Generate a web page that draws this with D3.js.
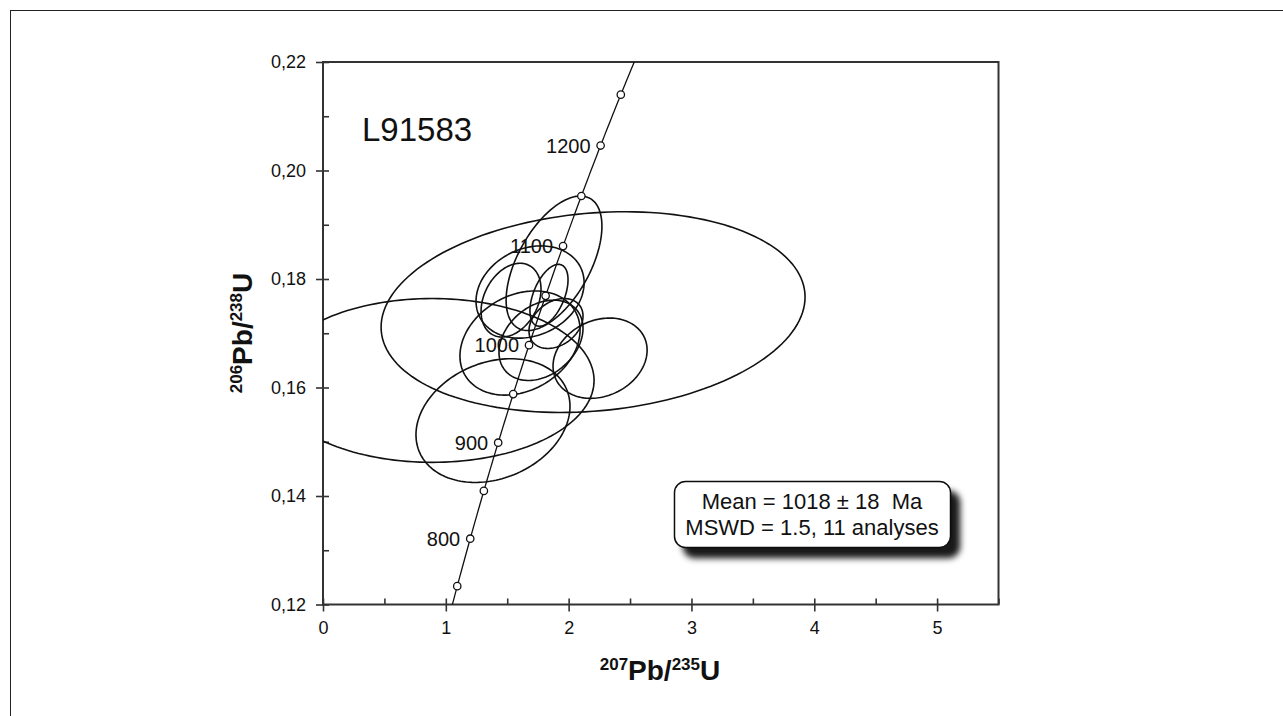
<!DOCTYPE html>
<html>
<head>
<meta charset="utf-8">
<script src="https://cdn.jsdelivr.net/npm/d3@7"></script>
<style>
  body { margin: 0; background: #fff; }
  text { font-family: "Liberation Sans", Arial, sans-serif; fill: #111; }
</style>
</head>
<body>
<svg width="1283" height="716"></svg>
<script>
// analyses: 207Pb/235U, 206Pb/238U, half-extents of the error ellipses, error correlation
var ratio75    = [2.199, 0.888, 1.384, 1.881, 1.686, 1.531, 1.840, 1.604, 1.775, 2.256, 1.897];
var ratio75Err = [1.726, 1.319, 0.627, 0.390, 0.440, 0.244, 0.155, 0.489, 0.342, 0.383, 0.220];
var ratio68    = [0.1739, 0.1613, 0.1539, 0.1829, 0.1776, 0.1761, 0.1770, 0.1682, 0.1687, 0.1654, 0.1718];
var ratio68Err = [0.0185, 0.0151, 0.0114, 0.0124, 0.0085, 0.0068, 0.0057, 0.0096, 0.0074, 0.0074, 0.0046];
var rho        = [0.15, 0.0, 0.23, 0.55, 0.2, 0.3, 0.5, 0.25, 0.3, 0.2, 0.3];

// concordia age marks (Ma) and the ones that get a label
var markAges  = [750, 800, 850, 900, 950, 1000, 1050, 1100, 1150, 1200, 1250];
var labelAges = [800, 900, 1000, 1100, 1200];

var xTicks = [0, 1, 2, 3, 4, 5];
var yTicks = [0.12, 0.14, 0.16, 0.18, 0.20, 0.22];

var sampleName = "L91583";
var resultLines = ["Mean = 1018 \u00b1 18  Ma", "MSWD = 1.5, 11 analyses"];

// decay constants (per year)
var l238 = 1.55125e-10, l235 = 9.8485e-10;
function concordia(t) {
  return [Math.exp(l235 * t * 1e6) - 1, Math.exp(l238 * t * 1e6) - 1];
}

var svg = d3.select("svg");

var x = d3.scaleLinear().domain([0, 5.5]).range([323, 998.5]),
    y = d3.scaleLinear().domain([0.12, 0.22]).range([604.5, 62]);

var comma = d3.formatLocale({decimal: ",", thousands: ".", grouping: [3], currency: ["", ""]});

// outer frame
svg.append("rect")
    .attr("x", 10.5).attr("y", 10.5)
    .attr("width", 1320).attr("height", 760)
    .attr("fill", "none").attr("stroke", "#222").attr("stroke-width", 1);

var defs = svg.append("defs");
defs.append("clipPath").attr("id", "plot")
  .append("rect")
    .attr("x", x(0)).attr("y", y(0.22))
    .attr("width", x(5.5) - x(0)).attr("height", y(0.12) - y(0.22));

var shadow = defs.append("filter").attr("id", "shadow")
    .attr("x", "-10%").attr("y", "-20%").attr("width", "130%").attr("height", "160%");
shadow.append("feDropShadow")
    .attr("dx", 9).attr("dy", 10).attr("stdDeviation", 3)
    .attr("flood-color", "#000").attr("flood-opacity", 0.9);

// axes: outward major ticks with labels, inward major + minor ticks
svg.append("g")
    .attr("class", "axis axis--x")
    .attr("transform", "translate(0," + y(0.12) + ")")
    .call(d3.axisBottom(x).tickValues(xTicks).tickSize(7).tickPadding(10).tickFormat(d3.format("d")));

svg.append("g")
    .attr("class", "axis axis--x-in")
    .attr("transform", "translate(0," + y(0.12) + ")")
    .call(d3.axisBottom(x).tickValues(d3.range(0, 5.51, 0.5)).tickSize(-6).tickFormat(""));

svg.append("g")
    .attr("class", "axis axis--y")
    .attr("transform", "translate(" + x(0) + ",0)")
    .call(d3.axisLeft(y).tickValues(yTicks).tickSize(7).tickPadding(10).tickFormat(comma.format(".2f")));

svg.append("g")
    .attr("class", "axis axis--y-in")
    .attr("transform", "translate(" + x(0) + ",0)")
    .call(d3.axisLeft(y).tickValues(d3.range(0.12, 0.2201, 0.01)).tickSize(-6).tickFormat(""));

svg.selectAll(".axis path").remove();
svg.selectAll(".axis line").attr("stroke", "#333").attr("stroke-width", 1.6);
svg.selectAll(".axis text").style("font-size", "18px").attr("fill", "#111");

// plot box
svg.append("rect")
    .attr("x", x(0)).attr("y", y(0.22))
    .attr("width", x(5.5) - x(0)).attr("height", y(0.12) - y(0.22))
    .attr("fill", "none").attr("stroke", "#333").attr("stroke-width", 2);

var plot = svg.append("g").attr("clip-path", "url(#plot)");

// error ellipses
var line = d3.line()
    .x(function(d) { return x(d[0]); })
    .y(function(d) { return y(d[1]); })
    .curve(d3.curveLinearClosed);

var analyses = ratio75.map(function(v, i) {
  return {x: v, sx: ratio75Err[i], y: ratio68[i], sy: ratio68Err[i], rho: rho[i]};
});

plot.selectAll(".ellipse")
  .data(analyses)
  .enter().append("path")
    .attr("class", "ellipse")
    .attr("fill", "none")
    .attr("stroke", "#111")
    .attr("stroke-width", 1.6)
    .attr("d", function(d) {
      var pts = d3.range(0, 160).map(function(k) {
        var a = k / 160 * 2 * Math.PI;
        return [d.x + d.sx * Math.cos(a),
                d.y + d.sy * (d.rho * Math.cos(a) + Math.sqrt(1 - d.rho * d.rho) * Math.sin(a))];
      });
      return line(pts);
    });

// concordia curve
var curve = d3.line()
    .x(function(d) { return x(d[0]); })
    .y(function(d) { return y(d[1]); });

plot.append("path")
    .attr("fill", "none")
    .attr("stroke", "#111")
    .attr("stroke-width", 1.3)
    .attr("d", curve(d3.range(700, 1301, 5).map(concordia)));

plot.selectAll(".mark")
  .data(markAges)
  .enter().append("circle")
    .attr("class", "mark")
    .attr("cx", function(t) { return x(concordia(t)[0]); })
    .attr("cy", function(t) { return y(concordia(t)[1]); })
    .attr("r", 3.7)
    .attr("fill", "#fff")
    .attr("stroke", "#111")
    .attr("stroke-width", 1.3);

svg.selectAll(".age")
  .data(labelAges)
  .enter().append("text")
    .attr("class", "age")
    .attr("x", function(t) { return x(concordia(t)[0]) - 10; })
    .attr("y", function(t) { return y(concordia(t)[1]) + 7; })
    .attr("text-anchor", "end")
    .style("font-size", "20px")
    .text(function(t) { return t; });

// sample name
svg.append("text")
    .attr("x", 362).attr("y", 141)
    .style("font-size", "33px")
    .text(sampleName);

// result box
var box = svg.append("g");
box.append("rect")
    .attr("x", 674.5).attr("y", 481.5)
    .attr("width", 276).attr("height", 66)
    .attr("rx", 11)
    .attr("fill", "#fff")
    .attr("stroke", "#111")
    .attr("stroke-width", 1.5)
    .attr("filter", "url(#shadow)");

box.selectAll("text")
  .data(resultLines)
  .enter().append("text")
    .attr("x", 812)
    .attr("y", function(d, i) { return 509 + i * 26; })
    .attr("text-anchor", "middle")
    .style("font-size", "22px")
    .style("white-space", "pre")
    .text(function(d) { return d; });

// axis titles
var xt = svg.append("text")
    .attr("x", 660).attr("y", 680)
    .attr("text-anchor", "middle")
    .style("font-size", "28px").style("font-weight", "bold");
xt.append("tspan").attr("dy", -10).style("font-size", "17px").text("207");
xt.append("tspan").attr("dy", 10).text("Pb/");
xt.append("tspan").attr("dy", -10).style("font-size", "17px").text("235");
xt.append("tspan").attr("dy", 10).text("U");

var yt = svg.append("text")
    .attr("transform", "translate(252,333) rotate(-90)")
    .attr("text-anchor", "middle")
    .style("font-size", "28px").style("font-weight", "bold");
yt.append("tspan").attr("dy", -10).style("font-size", "17px").text("206");
yt.append("tspan").attr("dy", 10).text("Pb/");
yt.append("tspan").attr("dy", -10).style("font-size", "17px").text("238");
yt.append("tspan").attr("dy", 10).text("U");
</script>
</body>
</html>
